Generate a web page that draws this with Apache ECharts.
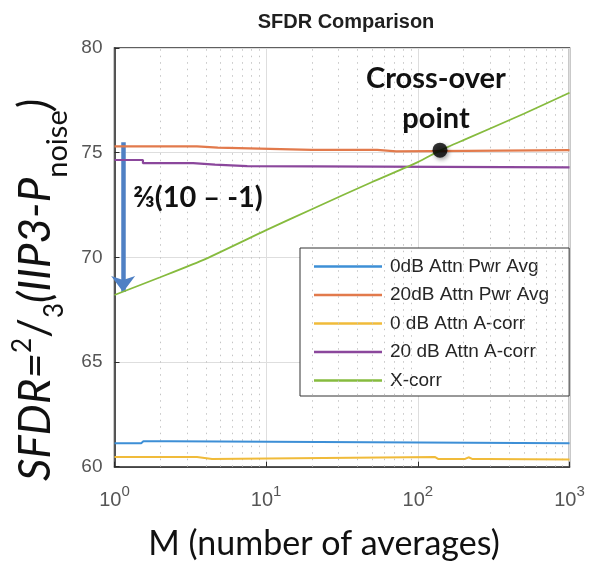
<!DOCTYPE html>
<html><head><meta charset="utf-8">
<script src="https://cdn.jsdelivr.net/npm/echarts@6/dist/echarts.min.js"></script>
<style>html,body{margin:0;padding:0;background:#fff}#c{width:591px;height:562px}</style>
</head><body><div id="c"></div>
<script>
// ---- data ----
const chartTitle = 'SFDR Comparison';
const xAxisTitle = 'M (number of averages)';
const xTicks = [1, 10, 100, 1000];
const yTicks = [60, 65, 70, 75, 80];
const names = ['0dB Attn Pwr Avg', '20dB Attn Pwr Avg', '0 dB Attn A-corr', '20 dB Attn A-corr', 'X-corr'];

const pwr0M  = [1, 1.5, 1.55, 2.3, 2.35, 1000];
const pwr0   = [61.12, 61.12, 61.21, 61.21, 61.12, 61.12];
const pwr20M = [1, 3.5, 3.5, 4.8, 4.8, 20, 54, 54, 72, 72, 1000];
const pwr20  = [75.3, 75.3, 75.24, 75.24, 75.16, 75.13, 75.13, 75.06, 75.06, 75.12, 75.12];
const ac0M   = [1, 3.5, 3.6, 4.4, 4.5, 130, 136, 205, 216, 228, 285, 289, 293, 1000];
const ac0    = [60.46, 60.46, 60.37, 60.37, 60.46, 60.46, 60.37, 60.37, 60.45, 60.37, 60.37, 60.44, 60.36, 60.34];
const ac20M  = [1, 1.54, 1.54, 3.3, 3.3, 4.6, 4.6, 7.5, 7.5, 1000];
const ac20   = [74.65, 74.65, 74.5, 74.5, 74.43, 74.43, 74.36, 74.36, 74.31, 74.3];
const xcM    = [1, 2, 4, 10, 20, 50, 100, 140, 200, 500, 1000];
const xc     = [68.2, 69.05, 69.93, 71.3, 72.3, 73.6, 74.55, 75.1, 75.6, 76.86, 77.86];

const crossPoint = [140, 75.12];
const arrowM = 1.14, arrowFrom = 75.5, arrowTo = 68.35;
const arrowText = '⅔(10 – -1)';
const crossText = ['Cross-over', 'point'];

// ---- build ----
const zip = (a, b) => a.map((v, i) => [v, b[i]]);
const colors = ['#3d8fd6', '#e27a4c', '#f0bb3a', '#8b479c', '#86bb3e'];
const minorGrid = [];
for (let d = 1; d < 1000; d *= 10) for (let k = 2; k <= 9; k++) minorGrid.push({ xAxis: k * d });

const chart = echarts.init(document.getElementById('c'));
const FONT = '"Liberation Sans", Arial, sans-serif';
const LATO = 'Lato, "DejaVu Sans", sans-serif';
const lineSeries = (name, data, color, w) => ({
  name, type: 'line', data, showSymbol: false, symbol: 'none', z: 5,
  lineStyle: { color, width: w }, itemStyle: { color }, animation: false
});
const lab = (size, extra) => Object.assign({ fontFamily: LATO, fontSize: size, fill: '#111' }, extra || {});

chart.setOption({
  animation: false,
  title: {
    text: chartTitle, left: 341, top: 7, textAlign: 'center',
    textStyle: { fontFamily: FONT, fontWeight: 'bold', fontSize: 20, color: '#1f1f1f' }
  },
  grid: { left: 114.5, right: 21.5, top: 48, bottom: 95.3, show: true, borderColor: '#2b2b2b', borderWidth: 1.5, backgroundColor: 'transparent' },
  legend: {
    data: names, orient: 'vertical', left: 300, top: 248,
    icon: 'rect', itemWidth: 68, itemHeight: 2.5, itemGap: 9.5,
    padding: [9, 20, 6, 14],
    borderColor: '#333', borderWidth: 1, backgroundColor: '#fff',
    textStyle: { fontFamily: FONT, fontSize: 19, color: '#262626', padding: [0, 0, 0, 3] }
  },
  xAxis: {
    type: 'log', logBase: 10, min: 1, max: 1000,
    axisLine: { show: true, lineStyle: { color: '#2b2b2b', width: 1.5 } },
    axisTick: { show: true, inside: true, length: 5, lineStyle: { color: '#2b2b2b' } },
    splitLine: { show: true, lineStyle: { color: '#dedede', width: 1 } },
    axisLabel: {
      margin: 18,
      formatter: v => '{b|10}{e|' + Math.round(Math.log10(v)) + '}',
      rich: {
        b: { fontFamily: FONT, fontSize: 20, color: '#555', lineHeight: 26, verticalAlign: 'bottom' },
        e: { fontFamily: FONT, fontSize: 15, color: '#555', lineHeight: 15, verticalAlign: 'top' }
      }
    }
  },
  yAxis: {
    type: 'value', min: 60, max: 80, interval: 5,
    axisLine: { show: true, lineStyle: { color: '#2b2b2b', width: 1.5 } },
    axisTick: { show: true, inside: true, length: 5, lineStyle: { color: '#2b2b2b' } },
    splitLine: { show: true, lineStyle: { color: '#dedede', width: 1 } },
    axisLabel: { margin: 12, fontFamily: FONT, fontSize: 19, color: '#555' }
  },
  graphic: [
    { type: 'text', x: 36, y: 290, rotation: Math.PI / 2, z: 20,
      style: {
        text: '{i|SFDR=}{sup|2}{sl|/}{sub|3}{i|(IIP3-P}{sb|noise}{i|)}',
        align: 'center', verticalAlign: 'middle',
        rich: {
          i: lab(44, { fontStyle: 'italic', lineHeight: 52 }),
          sl: lab(44, { lineHeight: 52 }),
          sup: lab(26, { lineHeight: 26, verticalAlign: 'top' }),
          sub: lab(26, { lineHeight: 26, verticalAlign: 'bottom', padding: [0, 0, -6, 0] }),
          sb: lab(29, { lineHeight: 29, verticalAlign: 'bottom', padding: [0, 0, -10, 0] })
        }
      } },
    { type: 'text', x: 133, y: 198, z: 20,
      style: lab(29, { text: arrowText, fontWeight: 'bold', verticalAlign: 'middle' }) },
    { type: 'text', x: 436, y: 79, z: 20,
      style: lab(29, { text: crossText[0], fontWeight: 'bold', align: 'center', verticalAlign: 'middle' }) },
    { type: 'text', x: 436, y: 119, z: 20,
      style: lab(29, { text: crossText[1], fontWeight: 'bold', align: 'center', verticalAlign: 'middle' }) },
    { type: 'text', x: 324, y: 544, z: 20,
      style: lab(34, { text: xAxisTitle, align: 'center', verticalAlign: 'middle' }) }
  ],
  series: [
    { name: 'minor', type: 'line', data: [], silent: true,
      markLine: { silent: true, symbol: ['none', 'none'], label: { show: false }, animation: false,
        lineStyle: { color: '#c4c4c4', type: [1.5, 5], width: 1 }, data: minorGrid } },
    lineSeries(names[0], zip(pwr0M, pwr0), colors[0], 2),
    lineSeries(names[1], zip(pwr20M, pwr20), colors[1], 2.2),
    lineSeries(names[2], zip(ac0M, ac0), colors[2], 2),
    lineSeries(names[3], zip(ac20M, ac20), colors[3], 2.2),
    Object.assign(lineSeries(names[4], zip(xcM, xc), colors[4], 1.8), {
      smooth: 0.2,
      markLine: { silent: true, symbol: ['none', 'arrow'], symbolSize: [18, 16], label: { show: false }, animation: false,
        lineStyle: { color: '#4f80c4', width: 4.5, type: 'solid' },
        data: [[{ coord: [arrowM, arrowFrom] }, { coord: [arrowM, arrowTo] }]] }
    }),
    { name: 'cross', type: 'scatter', data: [crossPoint], symbolSize: 15, z: 10,
      itemStyle: { color: '#000', shadowBlur: 4, shadowColor: 'rgba(0,0,0,0.45)', shadowOffsetX: 1.5, shadowOffsetY: 2 } }
  ]
});
</script>
</body></html>
